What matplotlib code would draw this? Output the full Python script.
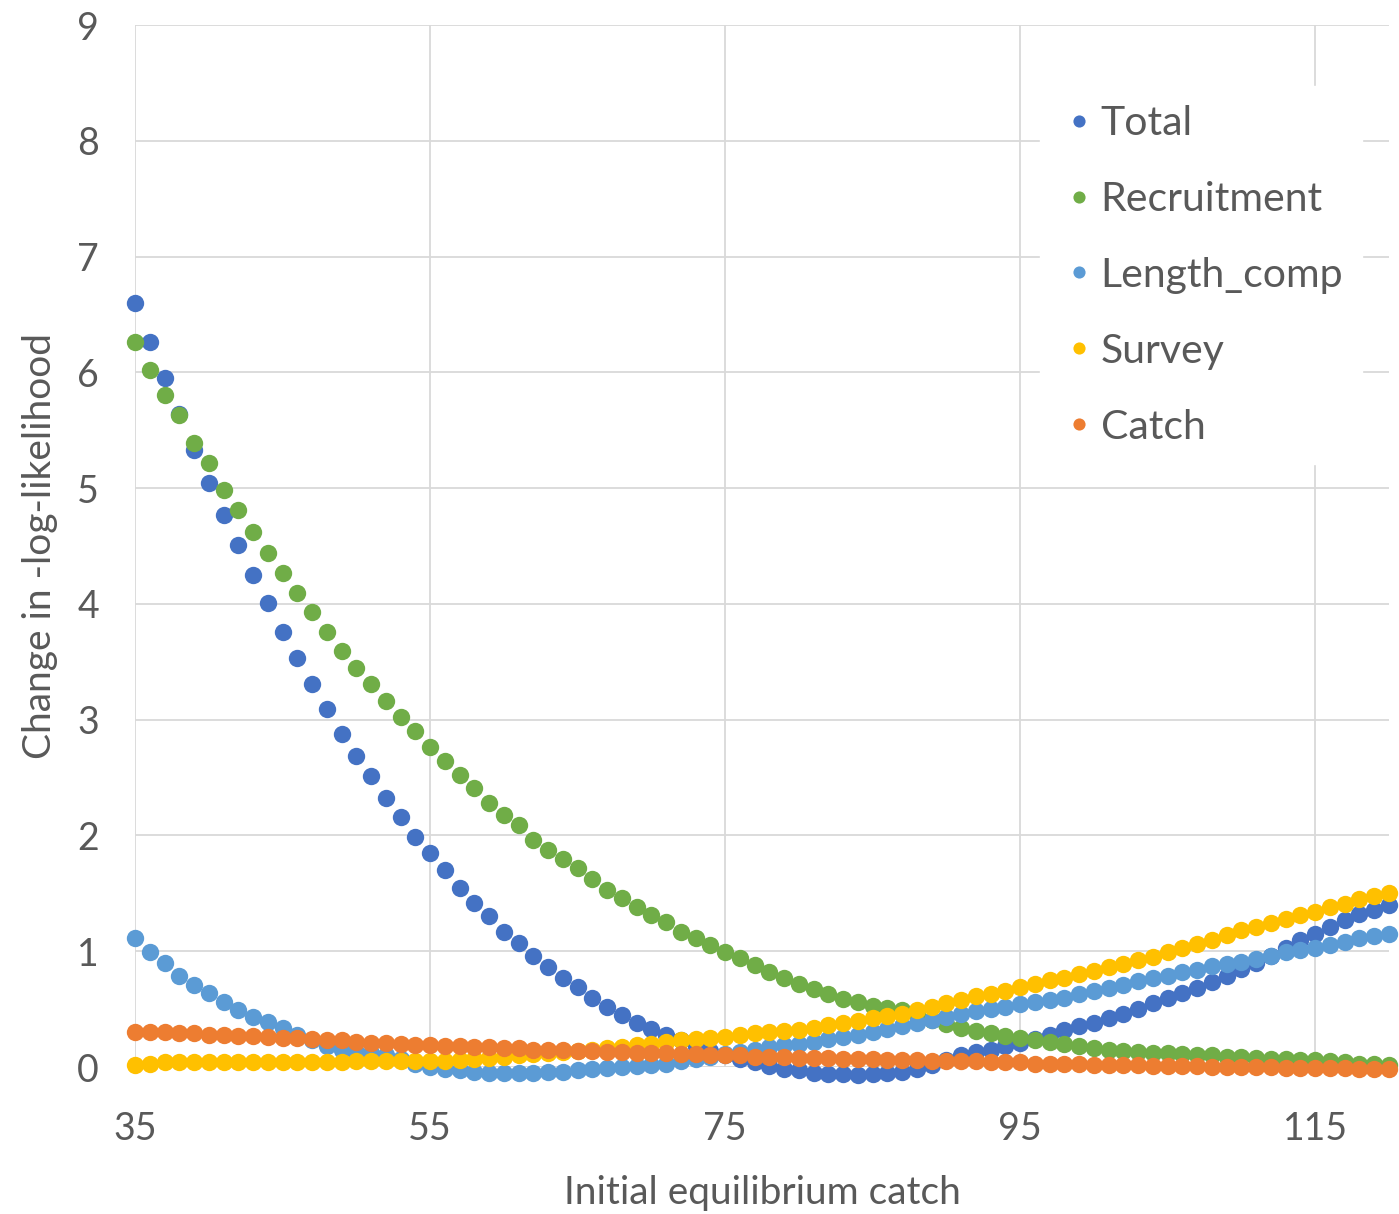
import numpy as np
import matplotlib
matplotlib.use("Agg")
import matplotlib.pyplot as plt

plt.rcParams["font.family"] = ["Lato", "DejaVu Sans"]

catch_x = list(range(35, 121))

total = [
    6.60, 6.26, 5.95, 5.64, 5.33, 5.04, 4.77, 4.51, 4.25, 4.01,
    3.76, 3.53, 3.31, 3.09, 2.88, 2.69, 2.51, 2.32, 2.16, 1.99,
    1.85, 1.70, 1.55, 1.42, 1.30, 1.17, 1.07, 0.96, 0.86, 0.77,
    0.69, 0.60, 0.52, 0.45, 0.38, 0.33, 0.28, 0.23, 0.18, 0.14,
    0.10, 0.07, 0.04, 0.01, -0.02, -0.03, -0.05, -0.06, -0.06, -0.07,
    -0.06, -0.05, -0.04, -0.02, 0.02, 0.06, 0.10, 0.13, 0.15, 0.18,
    0.21, 0.24, 0.28, 0.32, 0.35, 0.38, 0.42, 0.46, 0.50, 0.55,
    0.60, 0.64, 0.68, 0.73, 0.79, 0.85, 0.90, 0.96, 1.03, 1.10,
    1.15, 1.21, 1.27, 1.32, 1.36, 1.40,
]

recruitment = [
    6.26, 6.02, 5.80, 5.63, 5.39, 5.22, 4.98, 4.81, 4.62, 4.44,
    4.27, 4.09, 3.93, 3.76, 3.59, 3.45, 3.31, 3.16, 3.02, 2.90,
    2.76, 2.64, 2.52, 2.41, 2.28, 2.18, 2.09, 1.96, 1.87, 1.80,
    1.72, 1.62, 1.53, 1.46, 1.38, 1.31, 1.25, 1.17, 1.11, 1.05,
    0.99, 0.94, 0.88, 0.82, 0.77, 0.72, 0.67, 0.63, 0.59, 0.56,
    0.53, 0.51, 0.49, 0.45, 0.41, 0.37, 0.34, 0.31, 0.29, 0.27,
    0.25, 0.23, 0.22, 0.20, 0.18, 0.16, 0.15, 0.14, 0.13, 0.12,
    0.12, 0.11, 0.10, 0.10, 0.09, 0.09, 0.08, 0.07, 0.07, 0.06,
    0.06, 0.05, 0.04, 0.03, 0.03, 0.02,
]

length_comp = [
    1.11, 0.99, 0.90, 0.79, 0.71, 0.64, 0.56, 0.49, 0.43, 0.39,
    0.34, 0.28, 0.23, 0.18, 0.15, 0.13, 0.12, 0.10, 0.07, 0.03,
    0.00, -0.02, -0.03, -0.04, -0.05, -0.05, -0.05, -0.05, -0.04, -0.04,
    -0.03, -0.02, -0.01, 0.00, 0.01, 0.02, 0.03, 0.05, 0.07, 0.09,
    0.11, 0.13, 0.15, 0.17, 0.19, 0.20, 0.22, 0.24, 0.26, 0.28,
    0.30, 0.33, 0.35, 0.38, 0.41, 0.43, 0.46, 0.48, 0.50, 0.52,
    0.54, 0.56, 0.58, 0.60, 0.63, 0.66, 0.68, 0.71, 0.74, 0.77,
    0.79, 0.82, 0.84, 0.87, 0.89, 0.91, 0.93, 0.96, 0.99, 1.01,
    1.03, 1.05, 1.08, 1.11, 1.13, 1.15,
]

survey = [
    0.02, 0.03, 0.04, 0.04, 0.04, 0.04, 0.04, 0.04, 0.04, 0.04,
    0.04, 0.04, 0.04, 0.04, 0.04, 0.05, 0.05, 0.05, 0.05, 0.05,
    0.05, 0.05, 0.06, 0.07, 0.08, 0.09, 0.10, 0.11, 0.12, 0.13,
    0.14, 0.15, 0.16, 0.17, 0.19, 0.20, 0.22, 0.23, 0.24, 0.25,
    0.26, 0.28, 0.29, 0.30, 0.31, 0.32, 0.34, 0.36, 0.38, 0.40,
    0.42, 0.44, 0.46, 0.49, 0.52, 0.55, 0.58, 0.61, 0.63, 0.66,
    0.69, 0.72, 0.75, 0.77, 0.80, 0.83, 0.86, 0.89, 0.92, 0.95,
    0.99, 1.03, 1.06, 1.10, 1.14, 1.18, 1.21, 1.24, 1.28, 1.31,
    1.34, 1.38, 1.41, 1.45, 1.48, 1.50,
]

catch = [
    0.30, 0.30, 0.30, 0.29, 0.29, 0.28, 0.28, 0.27, 0.27, 0.26,
    0.25, 0.25, 0.24, 0.23, 0.23, 0.22, 0.21, 0.21, 0.20, 0.19,
    0.19, 0.18, 0.18, 0.17, 0.17, 0.16, 0.16, 0.15, 0.15, 0.15,
    0.14, 0.14, 0.13, 0.13, 0.12, 0.12, 0.12, 0.11, 0.11, 0.10,
    0.10, 0.10, 0.09, 0.09, 0.09, 0.08, 0.08, 0.08, 0.07, 0.07,
    0.07, 0.06, 0.06, 0.06, 0.05, 0.05, 0.05, 0.05, 0.04, 0.04,
    0.04, 0.03, 0.03, 0.03, 0.03, 0.02, 0.02, 0.02, 0.02, 0.01,
    0.01, 0.01, 0.01, 0.00, 0.00, 0.00, 0.00, 0.00, -0.01, -0.01,
    -0.01, -0.01, -0.01, -0.02, -0.02, -0.02,
]

series = [
    ("Total", total, "#4472C4"),
    ("Recruitment", recruitment, "#70AD47"),
    ("Length_comp", length_comp, "#5B9BD5"),
    ("Survey", survey, "#FFC000"),
    ("Catch", catch, "#ED7D31"),
]

fig = plt.figure(figsize=(13.99, 12.14), dpi=100)
ax = fig.add_axes([135 / 1399, 1 - 1067 / 1214, (1389 - 135) / 1399, (1067 - 25) / 1214])

for name, vals, col in series:
    ax.plot(catch_x, vals, "o", color=col, markersize=12.5, markeredgewidth=0,
            label=name, clip_on=False, zorder=3)

ax.set_xlim(35, 120)
ax.set_ylim(0, 9)
ax.set_xticks([35, 55, 75, 95, 115])
ax.set_yticks(range(0, 10))
ax.grid(True, color="#d9d9d9", linewidth=1.3, zorder=0)
ax.set_axisbelow(True)
for s in ax.spines.values():
    s.set_visible(False)
ax.tick_params(length=0, labelsize=27, colors="#595959")
ax.tick_params(axis="x", pad=32)
ax.tick_params(axis="y", pad=26)

ax.set_xlabel("Initial equilibrium catch", fontsize=28, color="#595959", labelpad=20)
ax.set_ylabel("Change in -log-likelihood", fontsize=28, color="#595959", labelpad=14)

leg = ax.legend(loc="upper left", bbox_to_anchor=(1020 / 1399, 1 - 66 / 1214),
                bbox_transform=fig.transFigure, fontsize=29.5,
                frameon=True, framealpha=1, edgecolor="white", fancybox=False,
                handlelength=1.0, handletextpad=0.02, labelspacing=0.95, markerscale=0.7,
                labelcolor="#595959", borderpad=0.45)

fig.savefig("out.png", dpi=100)
